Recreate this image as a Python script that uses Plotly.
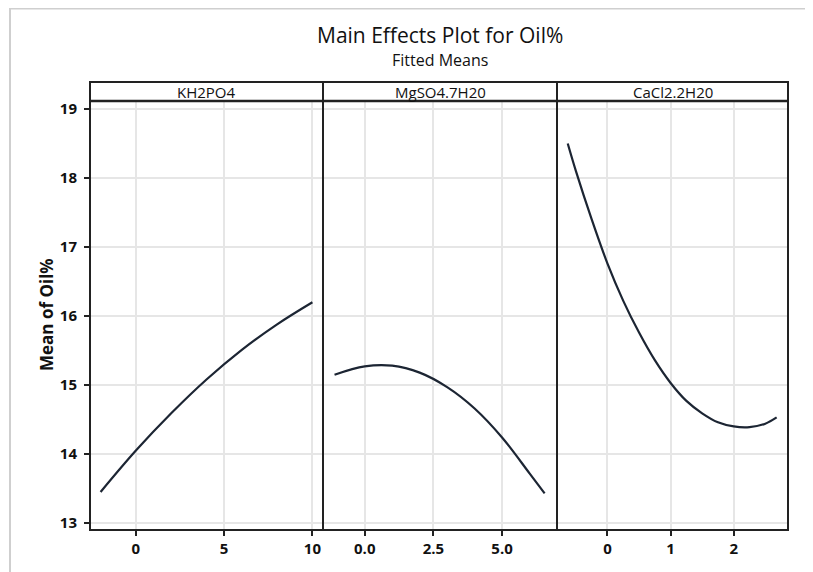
import plotly.graph_objects as go

# ---- data ----
panel_names = ["KH2PO4", "MgSO4.7H20", "CaCl2.2H20"]

kh2po4_x = [-2, 0, 2, 4, 6, 8, 10]
kh2po4_y = [13.45, 14.05, 14.59, 15.08, 15.51, 15.88, 16.20]

mgso4_x = [-1.1, 0, 1, 2, 3, 4, 5, 6, 6.55]
mgso4_y = [15.15, 15.27, 15.28, 15.18, 14.97, 14.66, 14.24, 13.72, 13.43]

cacl2_x = [-0.63, -0.5, -0.25, 0, 0.25, 0.5, 0.75, 1.0, 1.25, 1.5, 1.75, 2.0, 2.25, 2.5, 2.68]
cacl2_y = [18.50, 18.10, 17.40, 16.76, 16.22, 15.76, 15.36, 15.03, 14.77, 14.59, 14.46, 14.40, 14.39, 14.44, 14.53]

kh2po4_ticks = [0, 5, 10]
kh2po4_ticklabels = ["0", "5", "10"]
mgso4_ticks = [0, 2.5, 5]
mgso4_ticklabels = ["0.0", "2.5", "5.0"]
cacl2_ticks = [0, 1, 2]
cacl2_ticklabels = ["0", "1", "2"]
y_ticks = [13, 14, 15, 16, 17, 18, 19]

title = "Main Effects Plot for Oil%"
subtitle = "Fitted Means"
y_title = "Mean of Oil%"

# ---- layout geometry (page pixels; the page body has an 8px margin) ----
OFF = 8
W, H = 813 - OFF, 572 - OFF
L, R, T, B = 90, 788, 101, 530
HEADER_TOP = 82
DIV1, DIV2 = 323, 557
PW, PH = R - L, B - T


def px(x):
    return (x - L) / PW


def py(y):
    return (B - y) / PH


FONT = "Open Sans"
LINE_COLOR = "#1c2533"
GRID = "#e6e6e6"

fig = go.Figure()

series = [(kh2po4_x, kh2po4_y), (mgso4_x, mgso4_y), (cacl2_x, cacl2_y)]
for i, (xs, ys) in enumerate(series):
    axn = "" if i == 0 else str(i + 1)
    fig.add_trace(go.Scatter(
        x=xs, y=ys, mode="lines", line=dict(color=LINE_COLOR, width=2.2, shape="spline"),
        xaxis="x" + axn, yaxis="y" + axn, showlegend=False, hoverinfo="skip"))

domains = [[0, px(DIV1)], [px(DIV1), px(DIV2)], [px(DIV2), 1]]
ranges = [[-2.6, 10.6], [-1.52, 7.0], [-0.8, 2.86]]
ticks = [(kh2po4_ticks, kh2po4_ticklabels), (mgso4_ticks, mgso4_ticklabels), (cacl2_ticks, cacl2_ticklabels)]
yrange = [12.899, 19.116]

layout = dict(
    width=W, height=H,
    margin=dict(l=L - OFF, r=813 - R, t=T - OFF, b=572 - B, pad=0),
    paper_bgcolor="white", plot_bgcolor="white",
    showlegend=False,
)
tickfont = dict(family=FONT, size=15, color="#111111", weight="bold")
for i in range(3):
    axn = "" if i == 0 else str(i + 1)
    layout["xaxis" + axn] = dict(
        domain=domains[i], range=ranges[i], anchor="y" + axn,
        tickvals=ticks[i][0], ticktext=ticks[i][1],
        ticks="outside", ticklen=5, tickwidth=1.5, tickcolor="#222222",
        tickfont=tickfont, showgrid=True, gridcolor=GRID, gridwidth=1.5,
        zeroline=False, showline=False, fixedrange=True,
    )
    ydict = dict(
        domain=[0, 1], range=yrange, anchor="x" + axn,
        tickvals=y_ticks, showgrid=True, gridcolor=GRID, gridwidth=1.5,
        zeroline=False, showline=False, fixedrange=True,
    )
    if i == 0:
        ydict.update(ticks="outside", ticklen=5, tickwidth=1.5, tickcolor="#222222",
                     tickfont=tickfont, showticklabels=True, ticklabelstandoff=4)
    else:
        ydict.update(showticklabels=False, ticks="", matches="y")
    layout["yaxis" + axn] = ydict

fig.update_layout(**layout)

shapes = []
# outer gray frame of the picture
shapes.append(dict(type="line", xref="paper", yref="paper", x0=px(10), x1=px(813), y0=py(8.5), y1=py(8.5),
                   line=dict(color="#cfcfcf", width=2)))
shapes.append(dict(type="line", xref="paper", yref="paper", x0=px(10), x1=px(10), y0=py(8), y1=py(572),
                   line=dict(color="#cfcfcf", width=2)))
# panel frame
shapes.append(dict(type="rect", xref="paper", yref="paper", x0=0, x1=1, y0=0, y1=py(HEADER_TOP),
                   line=dict(color="#222222", width=2)))
shapes.append(dict(type="line", xref="paper", yref="paper", x0=0, x1=1, y0=1, y1=1,
                   line=dict(color="#222222", width=2.5)))
for d in (DIV1, DIV2):
    shapes.append(dict(type="line", xref="paper", yref="paper", x0=px(d), x1=px(d), y0=0, y1=py(HEADER_TOP),
                       line=dict(color="#222222", width=2)))
fig.update_layout(shapes=shapes)

annotations = []
annotations.append(dict(text=title, xref="paper", yref="paper", x=px(440), y=py(34.5),
                        showarrow=False, xanchor="center", yanchor="middle",
                        font=dict(family=FONT, size=21, color="#111111")))
annotations.append(dict(text=subtitle, xref="paper", yref="paper", x=px(440), y=py(60),
                        showarrow=False, xanchor="center", yanchor="middle",
                        font=dict(family=FONT, size=16, color="#111111")))
annotations.append(dict(text=y_title, xref="paper", yref="paper", x=px(46), y=py(315),
                        showarrow=False, xanchor="center", yanchor="middle", textangle=-90,
                        font=dict(family=FONT, size=17, color="#111111", weight="bold")))
centers = [(L + DIV1) / 2, (DIV1 + DIV2) / 2, (DIV2 + R) / 2]
for name, c in zip(panel_names, centers):
    annotations.append(dict(text=name, xref="paper", yref="paper", x=px(c), y=py(92),
                            showarrow=False, xanchor="center", yanchor="middle",
                            font=dict(family=FONT, size=15, color="#111111")))
fig.update_layout(annotations=annotations)

fig.write_html("out.html")
